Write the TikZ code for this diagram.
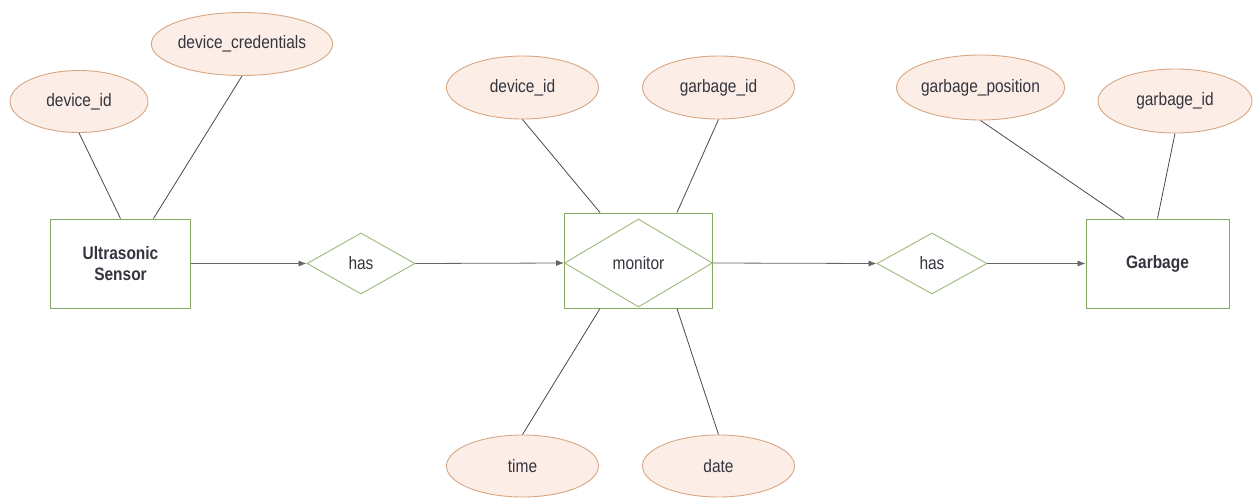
\documentclass[tikz,border=0pt]{standalone}
\usepackage{fontspec}
\setmainfont[FakeStretch=0.86]{Liberation Sans}
\usetikzlibrary{shapes.geometric,arrows.meta}
\definecolor{attrfill}{HTML}{FCEEE6}
\definecolor{attrline}{HTML}{D8A683}
\definecolor{entline}{HTML}{86A862}
\definecolor{relline}{HTML}{9CB87C}
\definecolor{linkcol}{HTML}{4A4A4A}
\definecolor{txtcol}{HTML}{34343F}
\begin{document}
\begin{tikzpicture}[x=1pt,y=-1pt,
  every node/.style={text=txtcol,font=\fontsize{18}{21}\selectfont},
  attr/.style={ellipse,draw=attrline,fill=attrfill,line width=0.9pt,
    minimum width=152pt,minimum height=63pt,inner sep=0pt},
  entity/.style={rectangle,draw=entline,line width=1pt,
    minimum width=140pt,minimum height=89pt,inner sep=0pt,align=center,
    font=\fontsize{18}{21}\selectfont\bfseries},
  rel/.style={diamond,draw=relline,line width=0.9pt,inner sep=0pt},
  link/.style={draw=linkcol,line width=0.8pt},
  flow/.style={draw=linkcol!85,line width=0.8pt,
    -{Latex[length=8pt,width=6pt]}}]
\useasboundingbox (0,0) rectangle (1254,498);

% entities
\node[entity] (us) at (120.5,263.5) {Ultrasonic\\Sensor};
\node[entity,minimum width=143pt] (gb) at (1157.5,263.5) {Garbage};
\node[rectangle,draw=entline,line width=1pt,minimum width=148pt,
  minimum height=95pt,inner sep=0pt] (mon) at (638.5,260.5) {};

% relationships
\node[rel,minimum width=108pt,minimum height=61pt] (has1) at (361,263.5) {has};
\node[rel,minimum width=148pt,minimum height=88pt] (monrel) at (638.5,263) {monitor};
\node[rel,minimum width=110pt,minimum height=61pt] (has2) at (932,263.5) {has};

% attributes
\node[attr,minimum width=138pt,minimum height=62pt] (usid) at (79,101.5) {device\_id};
\node[attr,minimum width=150pt] (uscred) at (242,44) {device\_credentials};
\node[attr] (mdev) at (522.5,87.5) {device\_id};
\node[attr] (mgb) at (718.5,87.5) {garbage\_id};
\node[attr,minimum height=62pt] (mtime) at (522.5,466) {time};
\node[attr,minimum height=62pt] (mdate) at (718.5,466) {date};
\node[attr,minimum width=153pt,minimum height=65pt] (gpos) at (980.5,87.5) {garbage\_position};
\node[attr,minimum width=154pt,minimum height=64pt] (gid) at (1175,101) {garbage\_id};

% attribute links
\draw[link] (usid.south) -- (us.north);
\draw[link] (uscred.south) -- ([xshift=33pt]us.north);
\draw[link] (mdev.south) -- ([xshift=-38.5pt]mon.north);
\draw[link] (mgb.south) -- ([xshift=38.5pt]mon.north);
\draw[link] (mtime.north) -- ([xshift=-38.5pt]mon.south);
\draw[link] (mdate.north) -- ([xshift=38.5pt]mon.south);
\draw[link] (gpos.south) -- ([xshift=-33.5pt]gb.north);
\draw[link] (gid.south) -- (gb.north);

% relationship flow
\draw[flow] (us.east) -- (has1.west);
\draw[flow] (has1.east) -- (monrel.west);
\draw[flow] (monrel.east) -- (has2.west);
\draw[flow] (has2.east) -- (gb.west);
\end{tikzpicture}
\end{document}
